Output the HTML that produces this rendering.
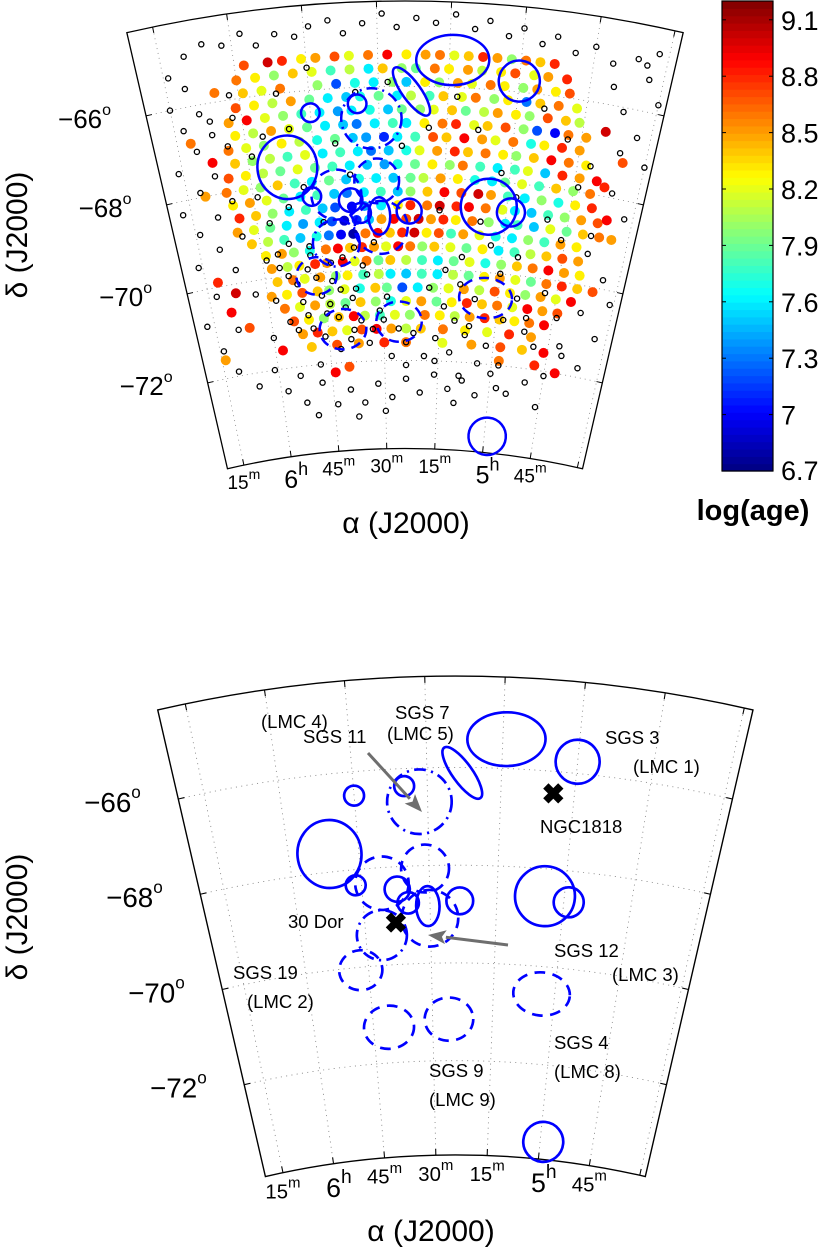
<!DOCTYPE html>
<html><head><meta charset="utf-8"><style>
html,body{margin:0;padding:0;background:#fff;}
svg{display:block;font-family:"Liberation Sans",Arial,sans-serif;}
</style></head><body>
<svg id="fig" xmlns="http://www.w3.org/2000/svg" width="822" height="1253" viewBox="0 0 822 1253">
<rect x="0" y="0" width="822" height="1253" fill="#fff"/>
<g id="topPanel"></g>
<g id="botPanel" transform="translate(22,675) scale(1.07)"></g>
<g id="cbar"></g>
<g id="ann"></g>
<text x="406" y="533" font-size="30" text-anchor="middle">α (J2000)</text>
<text x="27" y="235" font-size="30" text-anchor="middle" transform="rotate(-90 27 235)">δ (J2000)</text>
<text x="431" y="1241" font-size="30" text-anchor="middle">α (J2000)</text>
<text x="27" y="917" font-size="30" text-anchor="middle" transform="rotate(-90 27 917)">δ (J2000)</text>
<text x="753" y="520" font-size="29" font-weight="bold" text-anchor="middle">log(age)</text>
</svg>
<script>
// ---- data (RA as minutes after 4h, Dec in degrees, log age) ----
const clRA=[118,113,110,106,103,99,96,92,88,84,80,77,74,71,68,65,62,59,56,53,
120,116,112,108,104,100,96,92,89,85,82,78,75,71,68,64,61,57,54,50,
119,115,111,103,99,95,91,87,84,80,77,73,70,66,63,59,56,52,49,
121,117,113,109,105,101,97,94,90,86,83,79,76,72,69,65,62,58,55,51,47,
123,119,115,111,107,103,99,96,92,88,85,81,78,74,71,67,64,60,57,53,49,46,
122,118,114,110,106,102,98,95,91,87,84,80,76,73,69,66,62,58,55,51,48,44,
124,120,116,112,108,104,100,96,93,89,86,82,78,75,71,67,64,60,56,53,49,45,
123,119,115,111,107,103,99,95,92,88,84,81,77,73,70,66,62,59,55,51,47,43,
125,121,117,113,109,105,101,97,93,89,86,82,78,74,71,67,63,59,56,52,48,44,40,
126,122,118,114,110,106,102,98,95,91,87,83,80,76,72,68,64,61,57,53,49,45,41,
125,121,117,113,109,105,101,98,94,90,86,83,79,75,71,67,64,60,56,52,48,44,40,
124,120,116,112,108,104,101,97,94,90,86,83,79,76,72,69,65,61,58,54,50,46,42,38,
125,121,117,113,109,105,102,99,96,93,90,87,84,81,78,75,72,68,64,60,57,53,49,45,41,37,
122,118,114,110,106,103,100,97,94,91,88,85,82,79,76,73,70,66,62,58,54,50,46,42,
119,115,112,108,104,101,98,95,92,89,86,83,80,77,73,69,65,61,57,53,49,45,41,
118,114,111,107,104,100,97,94,91,88,84,80,76,72,68,64,60,56,52,48,44,40,
117,113,110,106,102,99,95,91,88,84,80,76,72,68,64,60,56,52,48,44,40,36,
119,115,111,107,104,100,96,92,89,85,81,77,73,69,65,61,57,53,49,45,41,
116,112,108,104,100,96,92,88,84,80,76,72,68,64,60,56,52,48,44,
114,110,106,102,98,95,91,87,83,79,75,71,67,63,59,55,51,47,
112,108,104,100,96,92,88,84,80,74,68,62,56,50,
118,110,103,97,90,84,74,66,58,52,46,
132,134,128,130,126,131,128,132,36,34,35,38,42,48,100,104,58,125,40];
const clDec=[-65.3,-65.3,-65.3,-65.3,-65.3,-65.3,-65.3,-65.3,-65.3,-65.3,-65.3,-65.3,-65.3,-65.3,-65.3,-65.3,-65.3,-65.3,-65.3,-65.3,
-65.6,-65.6,-65.6,-65.6,-65.6,-65.6,-65.6,-65.6,-65.6,-65.6,-65.6,-65.6,-65.6,-65.6,-65.6,-65.6,-65.6,-65.6,-65.6,-65.6,
-65.9,-65.9,-65.9,-65.9,-65.9,-65.9,-65.9,-65.9,-65.9,-65.9,-65.9,-65.9,-65.9,-65.9,-65.9,-65.9,-65.9,-65.9,-65.9,
-66.2,-66.2,-66.2,-66.2,-66.2,-66.2,-66.2,-66.2,-66.2,-66.2,-66.2,-66.2,-66.2,-66.2,-66.2,-66.2,-66.2,-66.2,-66.2,-66.2,-66.2,
-66.5,-66.5,-66.5,-66.5,-66.5,-66.5,-66.5,-66.5,-66.5,-66.5,-66.5,-66.5,-66.5,-66.5,-66.5,-66.5,-66.5,-66.5,-66.5,-66.5,-66.5,-66.5,
-66.8,-66.8,-66.8,-66.8,-66.8,-66.8,-66.8,-66.8,-66.8,-66.8,-66.8,-66.8,-66.8,-66.8,-66.8,-66.8,-66.8,-66.8,-66.8,-66.8,-66.8,-66.8,
-67.1,-67.1,-67.1,-67.1,-67.1,-67.1,-67.1,-67.1,-67.1,-67.1,-67.1,-67.1,-67.1,-67.1,-67.1,-67.1,-67.1,-67.1,-67.1,-67.1,-67.1,-67.1,
-67.4,-67.4,-67.4,-67.4,-67.4,-67.4,-67.4,-67.4,-67.4,-67.4,-67.4,-67.4,-67.4,-67.4,-67.4,-67.4,-67.4,-67.4,-67.4,-67.4,-67.4,-67.4,
-67.7,-67.7,-67.7,-67.7,-67.7,-67.7,-67.7,-67.7,-67.7,-67.7,-67.7,-67.7,-67.7,-67.7,-67.7,-67.7,-67.7,-67.7,-67.7,-67.7,-67.7,-67.7,-67.7,
-68.0,-68.0,-68.0,-68.0,-68.0,-68.0,-68.0,-68.0,-68.0,-68.0,-68.0,-68.0,-68.0,-68.0,-68.0,-68.0,-68.0,-68.0,-68.0,-68.0,-68.0,-68.0,-68.0,
-68.3,-68.3,-68.3,-68.3,-68.3,-68.3,-68.3,-68.3,-68.3,-68.3,-68.3,-68.3,-68.3,-68.3,-68.3,-68.3,-68.3,-68.3,-68.3,-68.3,-68.3,-68.3,-68.3,
-68.6,-68.6,-68.6,-68.6,-68.6,-68.6,-68.6,-68.6,-68.6,-68.6,-68.6,-68.6,-68.6,-68.6,-68.6,-68.6,-68.6,-68.6,-68.6,-68.6,-68.6,-68.6,-68.6,-68.6,
-68.9,-68.9,-68.9,-68.9,-68.9,-68.9,-68.9,-68.9,-68.9,-68.9,-68.9,-68.9,-68.9,-68.9,-68.9,-68.9,-68.9,-68.9,-68.9,-68.9,-68.9,-68.9,-68.9,-68.9,-68.9,-68.9,
-69.2,-69.2,-69.2,-69.2,-69.2,-69.2,-69.2,-69.2,-69.2,-69.2,-69.2,-69.2,-69.2,-69.2,-69.2,-69.2,-69.2,-69.2,-69.2,-69.2,-69.2,-69.2,-69.2,-69.2,
-69.5,-69.5,-69.5,-69.5,-69.5,-69.5,-69.5,-69.5,-69.5,-69.5,-69.5,-69.5,-69.5,-69.5,-69.5,-69.5,-69.5,-69.5,-69.5,-69.5,-69.5,-69.5,-69.5,
-69.8,-69.8,-69.8,-69.8,-69.8,-69.8,-69.8,-69.8,-69.8,-69.8,-69.8,-69.8,-69.8,-69.8,-69.8,-69.8,-69.8,-69.8,-69.8,-69.8,-69.8,-69.8,
-70.1,-70.1,-70.1,-70.1,-70.1,-70.1,-70.1,-70.1,-70.1,-70.1,-70.1,-70.1,-70.1,-70.1,-70.1,-70.1,-70.1,-70.1,-70.1,-70.1,-70.1,-70.1,
-70.4,-70.4,-70.4,-70.4,-70.4,-70.4,-70.4,-70.4,-70.4,-70.4,-70.4,-70.4,-70.4,-70.4,-70.4,-70.4,-70.4,-70.4,-70.4,-70.4,-70.4,
-70.7,-70.7,-70.7,-70.7,-70.7,-70.7,-70.7,-70.7,-70.7,-70.7,-70.7,-70.7,-70.7,-70.7,-70.7,-70.7,-70.7,-70.7,-70.7,
-71.0,-71.0,-71.0,-71.0,-71.0,-71.0,-71.0,-71.0,-71.0,-71.0,-71.0,-71.0,-71.0,-71.0,-71.0,-71.0,-71.0,-71.0,
-71.3,-71.3,-71.3,-71.3,-71.3,-71.3,-71.3,-71.3,-71.3,-71.3,-71.3,-71.3,-71.3,-71.3,
-71.6,-71.6,-71.6,-71.6,-71.6,-71.6,-71.6,-71.6,-71.6,-71.6,-71.6,
-69.9,-71.6,-70.2,-70.6,-71.0,-68.0,-67.3,-66.8,-68.5,-68.9,-67.2,-67.8,-72.0,-71.9,-72.1,-72.2,-71.9,-65.8,-66.6];
const clAge=[8.7,9.0,8.8,8.3,8.5,8.7,8.2,8.6,8.9,8.3,8.5,8.6,8.2,8.4,8.8,8.5,8.0,8.6,8.4,8.8,
8.6,8.3,8.0,8.4,8.2,7.8,8.1,7.6,8.4,8.0,7.9,8.6,8.3,8.5,8.1,8.3,8.7,8.2,8.5,8.8,
8.4,8.2,8.6,8.0,7.2,7.7,7.6,8.0,7.5,8.3,8.0,8.5,8.2,8.6,8.3,8.0,8.5,8.3,8.7,
8.7,8.3,8.1,8.5,7.9,7.6,7.5,7.7,7.9,7.6,8.1,7.8,8.4,8.2,8.6,8.0,8.3,7.3,8.4,8.6,8.2,
8.5,8.9,8.2,8.0,7.8,7.6,7.4,7.6,7.7,7.5,7.9,8.0,8.2,8.4,7.9,8.1,8.5,8.3,8.0,8.7,8.4,8.1,
8.3,8.1,8.5,8.2,7.9,7.6,7.5,7.3,7.6,7.8,7.6,8.3,8.6,8.8,8.2,8.4,8.7,8.0,7.2,7.0,8.6,8.5,
8.6,8.2,8.0,8.3,8.1,7.7,7.9,7.5,7.4,7.1,7.6,7.8,8.7,8.4,8.9,8.5,8.2,8.6,7.7,8.3,8.8,8.5,
8.4,8.0,8.1,7.8,8.2,7.6,7.8,7.6,7.3,7.5,7.7,8.2,8.5,8.8,8.4,8.6,8.3,8.0,8.4,8.9,8.6,8.3,
8.7,8.3,8.1,7.9,8.2,7.9,7.8,7.6,7.5,7.4,7.7,7.9,8.3,8.0,8.6,7.8,7.6,7.8,8.2,7.5,8.8,8.5,8.9,
8.6,8.2,8.0,8.4,7.8,7.6,7.9,7.5,7.7,7.6,7.5,7.9,8.1,8.5,8.3,7.7,7.6,7.9,8.2,7.8,8.4,8.0,8.6,
8.3,8.5,8.2,7.9,7.6,7.8,7.5,7.3,7.6,7.8,7.5,8.0,8.4,8.9,8.7,9.0,8.5,7.8,7.6,8.0,7.7,8.3,8.8,
8.8,8.4,8.0,7.6,7.8,7.5,7.2,7.0,7.4,7.6,8.3,8.8,8.6,9.0,8.8,8.9,8.6,8.2,7.6,7.5,7.8,8.0,8.5,8.7,
8.5,8.2,7.9,7.6,7.4,7.6,7.2,6.9,7.1,7.5,8.5,8.9,8.7,9.0,8.5,8.8,8.3,8.6,8.0,7.6,7.8,7.5,8.2,7.9,8.4,8.6,
8.4,8.1,7.8,7.5,7.7,7.3,7.0,6.8,8.6,8.9,8.4,8.8,9.0,8.3,8.7,7.8,8.5,8.2,7.7,7.6,8.0,7.8,8.5,8.3,
8.3,8.5,8.0,7.7,8.6,8.9,8.4,8.8,8.5,8.2,8.9,8.6,8.0,8.4,8.2,7.9,8.3,7.6,7.8,8.1,8.4,8.7,8.5,
8.5,8.1,8.3,8.8,8.5,8.9,8.2,8.6,7.9,8.4,8.1,7.8,7.6,7.9,8.2,7.7,8.0,8.4,8.6,8.9,8.5,8.3,
8.4,8.6,8.2,8.5,8.0,8.3,7.8,8.1,7.6,7.5,7.8,7.6,8.1,7.9,8.3,8.5,8.2,7.9,8.6,8.8,8.4,8.7,
8.5,8.3,8.7,8.4,8.0,8.2,7.7,8.4,7.9,7.2,7.6,8.0,8.2,8.5,8.1,8.7,8.3,8.0,8.5,8.2,8.9,
8.6,8.2,8.5,8.1,7.9,8.4,8.0,7.7,8.2,8.5,7.9,8.3,8.8,8.4,8.6,8.2,8.9,8.5,8.7,
8.7,8.3,8.0,8.4,8.9,8.1,7.8,8.2,8.0,8.6,8.3,8.1,8.5,8.8,8.4,8.3,8.6,8.9,
8.5,8.8,8.4,8.2,8.7,8.9,8.5,8.1,8.4,8.6,8.3,8.2,8.8,8.5,
8.9,8.4,8.7,8.5,8.8,8.6,8.2,8.5,8.7,8.4,8.9,
8.8,8.5,9.0,8.9,8.7,8.5,8.9,8.6,8.9,8.5,8.7,8.8,8.9,8.8,8.7,8.9,8.6,8.6,9.0];
const opRA=[130,126,122,118,115,111,107,104,100,97,93,89,86,82,78,74,70,67,63,60,56,53,49,45,41,36,32,34,30,
134,131,135,129,133,127,131,136,128,132,137,129,134,130,136,127,133,137,129,134,131,126,121,124,123,120,125,
40,37,33,30,42,36,32,39,34,31,38,33,42,36,45,50,55,46,
118,113,108,104,100,96,92,88,84,80,76,72,68,64,60,114,110,98,90,70,58,
116,112,109,106,103,100,97,95,110,113,106,102,98,94,91,88,84,79,76,72,68,64,62,66,70,74,78,60,56,63,58,52,48,117,112,108,119,116,110,122,100,97,85,79,73,68,62,58,50,46,54,48,44,88,95,105,112,76,70,66,104,108,100,92,
114,111,107,104,101,98,96,118,115,109,105,102,99,93,90,86,82,119,116,113,108,103,97,94,89,74,71,67,55,52,49,44,41,124,127,122,119,33,36,39,108,84,76,69,58];
const opDec=[-64.9,-64.7,-64.8,-64.6,-64.9,-64.7,-64.8,-64.6,-64.5,-64.8,-64.6,-64.4,-64.7,-64.5,-64.6,-64.4,-64.7,-64.5,-64.8,-64.6,-64.9,-64.7,-65.0,-64.8,-65.1,-64.9,-64.7,-65.0,-65.8,
-65.3,-65.6,-66.0,-66.2,-66.5,-66.7,-67.0,-67.4,-67.6,-67.9,-68.3,-68.5,-68.8,-69.2,-69.5,-69.7,-70.2,-70.8,-71.0,-71.4,-71.9,-72.3,-72.0,-69.0,-70.3,-71.3,-68.2,
-65.6,-66.1,-66.6,-67.2,-67.4,-67.9,-68.4,-69.3,-69.8,-70.3,-70.6,-71.1,-71.4,-71.8,-72.1,-72.3,-72.6,-72.8,
-72.5,-72.8,-72.4,-72.9,-72.6,-72.9,-72.5,-72.8,-72.4,-72.7,-72.3,-72.6,-72.4,-72.7,-72.2,-72.2,-73.1,-73.2,-73.1,-72.9,-72.5,
-69.8,-70.2,-69.9,-70.5,-70.2,-70.8,-70.4,-69.9,-70.9,-71.2,-71.4,-71.7,-71.3,-71.6,-70.9,-71.9,-71.6,-71.9,-71.5,-71.8,-71.4,-72.0,-71.6,-70.6,-70.3,-70.0,-70.4,-70.0,-69.6,-69.4,-71.0,-70.9,-70.3,-68.8,-68.5,-68.1,-67.3,-66.9,-66.8,-66.4,-67.2,-67.9,-67.3,-66.9,-66.2,-66.9,-67.8,-68.3,-68.7,-69.1,-66.3,-66.9,-67.9,-65.9,-66.1,-65.5,-66.0,-68.7,-69.7,-68.9,-68.9,-69.4,-69.7,-69.4,
-70.0,-70.6,-70.1,-70.7,-70.4,-70.6,-71.1,-70.5,-71.0,-71.2,-70.9,-71.0,-71.5,-71.3,-71.1,-71.3,-71.4,-69.6,-69.5,-69.3,-69.6,-69.8,-69.5,-70.1,-70.6,-70.8,-71.1,-71.2,-70.5,-71.2,-71.5,-70.8,-71.6,-67.0,-66.4,-65.9,-68.2,-65.3,-67.0,-68.9,-72.0,-72.1,-72.0,-72.3,-72.0];
// supershells: centre RA (min after 4h), Dec, semi-axes (deg), rotation, style
const shRA=[74.3,82.9,60.0,105.0,94.7,91.7,111.3,90.9,100.5,106.3,97.2,94.9,90.5,83.3,90.1,101.3,106.9,64.3,58.9,63.2,101.1,85.9,59.1];
const shDec=[-65.40,-66.11,-65.76,-66.49,-66.36,-66.69,-67.63,-68.06,-68.32,-68.32,-68.46,-68.75,-68.83,-68.73,-69.08,-69.38,-70.06,-68.56,-68.64,-70.56,-71.27,-71.15,-73.57];
const shA=[0.80,0.635,0.45,0.204,0.204,0.661,0.655,0.49,0.547,0.204,0.258,0.219,0.239,0.274,0.58,0.512,0.442,0.613,0.307,0.58,0.512,0.497,0.409];
const shB=[0.55,0.204,0.45,0.204,0.204,0.661,0.696,0.49,0.547,0.204,0.258,0.219,0.409,0.274,0.58,0.512,0.409,0.613,0.307,0.442,0.442,0.442,0.409];
const shRot=[-3,54,0,0,0,0,0,0,0,0,0,0,0,0,0,0,0,0,0,0,0,0,0];
const shStyle=['s','s','s','s','s','dd','s','d','d','s','s','s','s','s','d','dd','d','s','s','d','d','d','s'];
const markName=['NGC1818','30 Dor'];
const markRA=[64.3,97.9];
const markDec=[-66.45,-69.14];
const raTicks=[135,120,105,90,75,60,45];
const raTickMain=['15','6','45','30','15','5','45'];
const raTickSup=['m','h','m','m','m','h','m'];
const decTicks=[-66,-68,-70,-72];
const cbTicks=[6.7,7,7.3,7.6,7.9,8.2,8.5,8.8,9.1];
const cbMin=6.7, cbMax=9.2;

// ---- projection ----
const NS='http://www.w3.org/2000/svg';
const CX=405, CY=1238, TH=0.2268, RB=789.5, RT=1237;
function th(m){return -0.02312-(m-90)*0.004053;}
function rr(d){return 1151.6+(d+66)*45.67;}
function pt(t,r){return [CX+r*Math.sin(t), CY-r*Math.cos(t)];}
function P(m,d){return pt(th(m),rr(d));}
function mk(tag,attrs,parent){const e=document.createElementNS(NS,tag);for(const k in attrs)e.setAttribute(k,attrs[k]);parent.appendChild(e);return e;}
function jet(v){let t=(v-cbMin)/(cbMax-cbMin);t=Math.max(0,Math.min(1,t));
 const c=x=>Math.round(255*Math.max(0,Math.min(1,1.5-Math.abs(x))));
 return 'rgb('+c(4*t-3)+','+c(4*t-2)+','+c(4*t-1)+')';}

function drawAxes(g){
 const a=pt(-TH,RT),b=pt(TH,RT),c=pt(TH,RB),d=pt(-TH,RB);
 const grid=mk('g',{},g);
 
 
 for(let m=30;m<=135;m+=15){const t=th(m);const p1=pt(t,RB),p2=pt(t,RT);
  const l=mk('line',{x1:p1[0],y1:p1[1],x2:p2[0],y2:p2[1],stroke:'#888','stroke-width':0.8,'stroke-dasharray':'1 4'},grid);
  
  }
 decTicks.forEach(dv=>{const r=rr(dv);const p1=pt(-TH,r),p2=pt(TH,r);
  const l=mk('path',{d:`M${p1[0]},${p1[1]} A${r},${r} 0 0 1 ${p2[0]},${p2[1]}`,fill:'none',stroke:'#888','stroke-width':0.8,'stroke-dasharray':'1 4'},grid);
  
  });
 const f=mk('path',{d:`M${a[0]},${a[1]} A${RT},${RT} 0 0 1 ${b[0]},${b[1]} L${c[0]},${c[1]} A${RB},${RB} 0 0 0 ${d[0]},${d[1]} Z`,fill:'none',stroke:'#000','stroke-width':1.3},g);
 
 
 const tk=mk('g',{stroke:'#000','stroke-width':1},g);
 
 
 for(let m=30;m<=135;m+=15){const t=th(m);
  let p1=pt(t,RB),p2=pt(t,RB+6);mk('line',{x1:p1[0],y1:p1[1],x2:p2[0],y2:p2[1]},tk);
  p1=pt(t,RT);p2=pt(t,RT-6);mk('line',{x1:p1[0],y1:p1[1],x2:p2[0],y2:p2[1]},tk);}
 decTicks.forEach(dv=>{const r=rr(dv);
  let p1=pt(-TH,r),p2=pt(-TH+6/r,r);mk('line',{x1:p1[0],y1:p1[1],x2:p2[0],y2:p2[1]},tk);
  p1=pt(TH,r);p2=pt(TH-6/r,r);mk('line',{x1:p1[0],y1:p1[1],x2:p2[0],y2:p2[1]},tk);});
 raTicks.forEach((m,i)=>{const p=pt(th(m),RB);const hr=raTickSup[i]==='h';
  const tx=mk('text',{x:p[0]+(hr?5:0),y:p[1]+(hr?31:24),'font-size':hr?25:19,'text-anchor':'middle'},g);
  
  
  tx.appendChild(document.createTextNode(raTickMain[i]));
  const s=mk('tspan',{'font-size':hr?18:14,dy:hr?-13:-10},tx);s.textContent=raTickSup[i];});
 decTicks.forEach(dv=>{const p=pt(-TH,rr(dv));
  const tx=mk('text',{x:p[0]-35,y:p[1]+12,'font-size':26,'text-anchor':'end'},g);
  
  
  tx.appendChild(document.createTextNode('\u2212'+Math.abs(dv)));
  const s=mk('tspan',{'font-size':16,dy:-13},tx);s.textContent='o';});
}
function drawShells(g){
 const sg=mk('g',{fill:'none',stroke:'#0000ff','stroke-width':2.5},g);
 
 
 const n=Math.min(shRA.length,shDec.length,shA.length,shB.length);
 for(let i=0;i<n;i++){const m=shRA[i];const p=P(m,shDec[i]);const rot=(shRot[i]||0)+th(m)*180/Math.PI;
  const at={cx:p[0],cy:p[1],rx:shA[i]*45.67,ry:shB[i]*45.67,transform:`rotate(${rot} ${p[0]} ${p[1]})`};
  if(shStyle[i]==='d')at['stroke-dasharray']='10 7';
  if(shStyle[i]==='dd')at['stroke-dasharray']='11 5 2 5';
  const e=mk('ellipse',at,sg);
  
  }
}

// top panel
const topG=document.getElementById('topPanel');
drawAxes(topG);
const sc=mk('g',{},topG);


const nCl=Math.min(clRA.length,clDec.length,clAge.length);
for(let i=0;i<nCl;i++){const p=P(clRA[i],clDec[i]);
 const c=mk('circle',{cx:p[0],cy:p[1],r:5,fill:jet(clAge[i])},sc);
 
 }
const op=mk('g',{fill:'none',stroke:'#000','stroke-width':1.3},topG);


const nOp=Math.min(opRA.length,opDec.length);
for(let i=0;i<nOp;i++){const p=P(opRA[i],opDec[i]);
 const c=mk('circle',{cx:p[0],cy:p[1],r:2.6},op);
 
 }
drawShells(topG);

// bottom panel
const botG=document.getElementById('botPanel');
drawAxes(botG);
drawShells(botG);
markRA.forEach((m,i)=>{const p=P(m,markDec[i]);
 const x=mk('path',{d:`M${p[0]-7},${p[1]-7} L${p[0]+7},${p[1]+7} M${p[0]+7},${p[1]-7} L${p[0]-7},${p[1]+7}`,stroke:'#000','stroke-width':7},botG);
 
 });

// annotations (bottom panel pixel space)
const ann=document.getElementById('ann');
const labels=[['(LMC 4)',261,728],['SGS 11',303,743],['SGS 7',395,719],['(LMC 5)',387,740],['SGS 3',605,744],['(LMC 1)',633,773],
['NGC1818',540,833],['30 Dor',288,928],['SGS 12',554,957],['(LMC 3)',612,981],['SGS 19',233,979],['(LMC 2)',247,1008],
['SGS 4',554,1049],['(LMC 8)',554,1078],['SGS 9',429,1077],['(LMC 9)',429,1106]];
labels.forEach(l=>{const t=mk('text',{x:l[1],y:l[2],'font-size':18.5},ann);t.textContent=l[0];
 
 });
function arrow(x1,y1,x2,y2,name){const g=mk('g',{},ann);
 
 
 const dx=x2-x1,dy=y2-y1,L=Math.hypot(dx,dy),ux=dx/L,uy=dy/L,hl=18,hw=7;
 const bx=x2-ux*hl,by=y2-uy*hl;
 mk('line',{x1:x1,y1:y1,x2:bx,y2:by,stroke:'#6e6e6e','stroke-width':3},g);
 mk('path',{d:`M${x2},${y2} L${bx-uy*hw},${by+ux*hw} L${bx+ux*4},${by+uy*4} L${bx+uy*hw},${by-ux*hw} Z`,fill:'#6e6e6e'},g);}
arrow(368,753,422,812,'arrow-sgs11');
arrow(508,945,428,935,'arrow-sgs12');

// colorbar
const cb=document.getElementById('cbar');
const cbTop=1, cbBot=471, cbL=722, cbR=773, N=64;
for(let k=0;k<N;k++){const v=cbMin+(k+0.5)*(cbMax-cbMin)/N;const h=(cbBot-cbTop)/N;
 const r=mk('rect',{x:cbL,y:cbBot-(k+1)*h,width:cbR-cbL,height:h+0.6,fill:jet(v)},cb);
 
 }
const cbf=mk('rect',{x:cbL,y:cbTop,width:cbR-cbL,height:cbBot-cbTop,fill:'none',stroke:'#000','stroke-width':1.2},cb);


cbTicks.forEach(v=>{const y=cbBot-(v-cbMin)/(cbMax-cbMin)*(cbBot-cbTop);
 mk('line',{x1:cbL,y1:y,x2:cbL+4,y2:y,stroke:'#000','stroke-width':1},cb);
 mk('line',{x1:cbR-4,y1:y,x2:cbR,y2:y,stroke:'#000','stroke-width':1},cb);
 const t=mk('text',{x:781,y:Math.min(y+10,480),'font-size':27},cb);t.textContent=String(v);
 
 });
</script>
</body></html>
